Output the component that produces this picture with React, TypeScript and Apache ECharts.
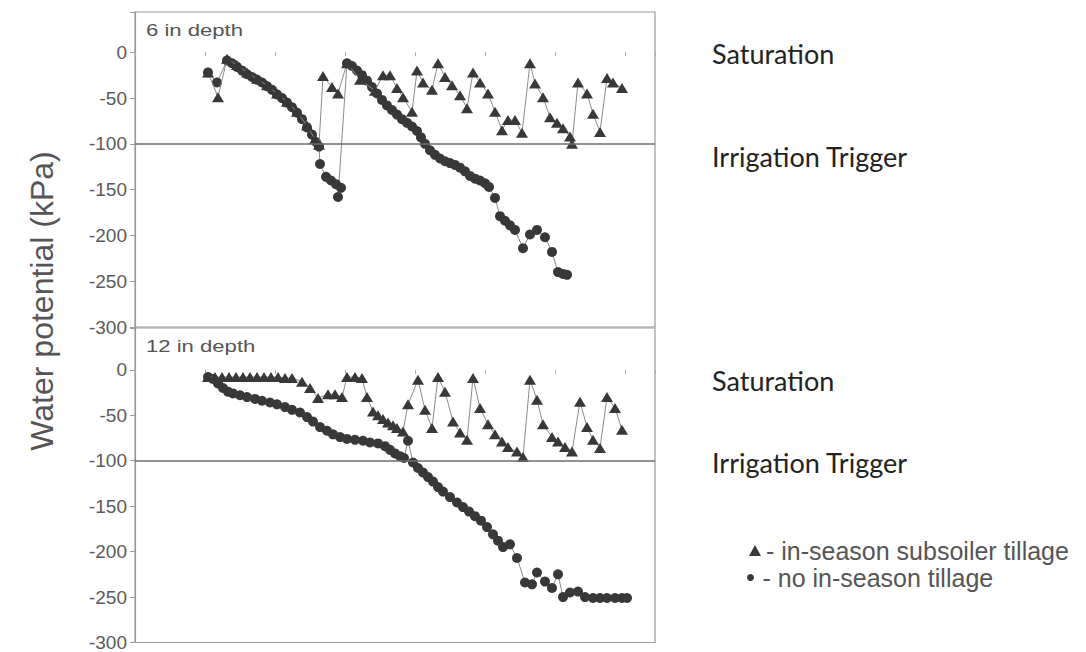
import React, { useEffect, useRef } from 'react';
import * as echarts from 'echarts';

// x = day of measurement period, y = soil water potential (kPa)
const seriesNames = ['in-season subsoiler tillage', 'no in-season tillage'];
const depthLabels = ['6 in depth', '12 in depth'];
const levelLabels = ['Saturation', 'Irrigation Trigger'];
const saturationLevel = 0;
const triggerLevel = -100;

const tillage6: number[][] = [
  [7.3, -22], [8.3, -49], [9.2, -7], [10.2, -14], [11.2, -22], [12.2, -29], [13.2, -36],
  [14.2, -45], [15.2, -54], [16.2, -65], [17.2, -80], [18.0, -95], [18.4, -101],
  [18.8, -26], [19.7, -38], [20.3, -45], [21.2, -12], [22.5, -30], [24.0, -42],
  [24.8, -25], [25.5, -25], [26.2, -39], [26.8, -49], [27.7, -65],
  [28.2, -20], [28.8, -33], [29.7, -41], [30.3, -12], [31.0, -27], [31.7, -36],
  [32.5, -47], [33.2, -61], [33.8, -22], [34.5, -33], [35.3, -45], [36.0, -65],
  [36.7, -85], [37.3, -74], [38.0, -74], [38.7, -88], [39.5, -12], [40.0, -34],
  [40.8, -49], [41.5, -71], [42.2, -77], [42.8, -83], [43.5, -92], [43.7, -100],
  [44.3, -33], [45.2, -45], [45.8, -67], [46.5, -87], [47.2, -28], [47.8, -33], [48.7, -39],
];

const noTillage6: number[][] = [
  [7.3, -22], [8.2, -33], [9.2, -9], [9.7, -12], [10.2, -16], [10.7, -20], [11.2, -24],
  [11.7, -27], [12.2, -30], [12.7, -33], [13.2, -37], [13.7, -41], [14.2, -46],
  [14.7, -50], [15.2, -55], [15.7, -60], [16.2, -66], [16.7, -73], [17.2, -82],
  [17.7, -90], [18.1, -98], [18.4, -103], [18.5, -122], [19.1, -136], [19.6, -140],
  [20.1, -144], [20.6, -148], [20.3, -158], [21.2, -12], [21.7, -15], [22.2, -20],
  [22.7, -25], [23.2, -31], [23.7, -38], [24.2, -45], [24.7, -52], [25.2, -58],
  [25.7, -63], [26.2, -68], [26.7, -73], [27.2, -77], [27.7, -81], [28.2, -86],
  [28.6, -93], [29.0, -100], [29.5, -107], [30.0, -112], [30.5, -116], [31.0, -119],
  [31.5, -121], [32.0, -123], [32.5, -126], [33.0, -130], [33.5, -135], [34.0, -138],
  [34.5, -140], [35.0, -143], [35.4, -147], [36.0, -159], [36.5, -179], [37.0, -184],
  [37.5, -189], [38.0, -194], [38.8, -214], [39.5, -199], [40.2, -194], [41.0, -202],
  [41.7, -218], [42.3, -240], [42.8, -242], [43.2, -243],
];

const tillage12: number[][] = [
  [7.3, -8], [8.0, -8], [8.7, -8], [9.4, -8], [10.1, -8], [10.8, -8], [11.5, -8],
  [12.2, -8], [12.9, -8], [13.6, -8], [14.3, -8], [15.0, -9], [15.7, -9], [16.7, -13],
  [17.5, -20], [18.3, -31], [19.3, -27], [20.0, -27], [20.7, -30], [21.2, -8],
  [22.0, -8], [22.7, -9], [23.2, -30], [23.8, -46], [24.3, -50], [24.8, -54],
  [25.3, -58], [25.8, -61], [26.2, -64], [26.8, -68], [27.3, -38], [28.3, -11],
  [29.0, -44], [29.7, -64], [30.3, -8], [31.0, -24], [31.8, -57], [32.5, -69],
  [33.2, -77], [33.8, -9], [34.5, -42], [35.3, -60], [36.0, -71], [36.7, -79],
  [37.3, -85], [38.2, -90], [38.8, -96], [39.5, -11], [40.2, -33], [40.8, -60],
  [41.7, -74], [42.3, -79], [43.0, -85], [43.7, -90], [44.5, -35], [45.2, -63],
  [45.8, -77], [46.5, -86], [47.2, -30], [48.0, -42], [48.7, -66],
];

const noTillage12: number[][] = [
  [7.3, -8], [7.8, -10], [8.3, -15], [8.8, -20], [9.3, -24], [9.8, -26], [10.5, -28],
  [11.2, -30], [12.0, -32], [12.7, -34], [13.5, -36], [14.2, -38], [15.0, -41],
  [15.7, -44], [16.5, -47], [17.2, -52], [17.8, -57], [18.5, -63], [19.2, -67],
  [19.8, -71], [20.5, -74], [21.2, -76], [22.0, -77], [22.8, -78], [23.5, -80],
  [24.3, -81], [25.0, -84], [25.5, -88], [26.0, -92], [26.5, -95], [26.9, -97],
  [27.3, -78], [27.8, -102], [28.3, -108], [28.8, -113], [29.3, -118], [29.8, -123],
  [30.3, -129], [30.8, -134], [31.5, -140], [32.2, -146], [32.8, -151], [33.4, -156],
  [34.0, -161], [34.6, -166], [35.2, -173], [35.8, -181], [36.3, -188], [36.8, -195],
  [37.5, -192], [38.2, -207], [39.0, -234], [39.7, -236], [40.2, -223], [41.0, -233],
  [41.7, -240], [42.3, -225], [42.8, -250], [43.5, -245], [44.3, -244], [45.0, -250],
  [45.8, -251], [46.5, -251], [47.2, -251], [48.0, -251], [48.7, -251], [49.2, -251],
];

const panels = [
  { tillage: tillage6, noTillage: noTillage6 },
  { tillage: tillage12, noTillage: noTillage12 },
];

const GRID_LEFT = 135;
const GRID_W = 520;
const grids = [
  { top: 12, height: 315 },
  { top: 328, height: 315 },
];
const Y_MIN = -300;
const Y_MAX = [44, 46];

export default function App() {
  const ref = useRef<HTMLDivElement>(null);
  useEffect(() => {
    if (!ref.current) return;
    const chart = echarts.init(ref.current, null, { renderer: 'svg' });
    const markerColor = '#383838';
    const series: any[] = [];
    panels.forEach((p, i) => {
      series.push({
        name: seriesNames[0],
        type: 'line',
        xAxisIndex: i,
        yAxisIndex: i,
        data: p.tillage,
        symbol: 'triangle',
        symbolSize: [12, 10],
        showAllSymbol: true,
        itemStyle: { color: markerColor },
        lineStyle: { color: '#8a8a8a', width: 1 },
        z: 3,
      });
      series.push({
        name: seriesNames[1],
        type: 'line',
        xAxisIndex: i,
        yAxisIndex: i,
        data: p.noTillage,
        symbol: 'circle',
        symbolSize: 10,
        showAllSymbol: true,
        itemStyle: { color: markerColor },
        lineStyle: { color: '#8a8a8a', width: 1 },
        z: 2,
        markLine: {
          silent: true,
          symbol: ['none', 'none'],
          label: { show: false },
          lineStyle: { color: '#6e6e6e', width: 1.5, type: 'solid' },
          data: [{ yAxis: triggerLevel }],
        },
      });
    });

    const graphics: any[] = [];
    depthLabels.forEach((t, i) => {
      graphics.push({
        type: 'text',
        x: 146,
        y: grids[i].top + 18,
        scaleX: 1.3,
        style: { text: t, fontSize: 17, fill: '#555', fontFamily: 'Liberation Sans', verticalAlign: 'middle' },
      });
    });
    const levelRows = [
      { text: levelLabels[0], y: 53 },
      { text: levelLabels[1], y: 156 },
      { text: levelLabels[0], y: 380 },
      { text: levelLabels[1], y: 462 },
    ];
    levelRows.forEach((r) => {
      graphics.push({
        type: 'text',
        x: 712,
        y: r.y,
        style: { text: r.text, fontSize: 27, fill: '#222', fontFamily: 'Lato', verticalAlign: 'middle' },
      });
    });

    const option: any = {
      animation: false,
      backgroundColor: '#fff',
      grid: grids.map((g) => ({
        left: GRID_LEFT,
        width: GRID_W,
        top: g.top,
        height: g.height,
        show: true,
        borderColor: '#9a9a9a',
        borderWidth: 1.2,
      })),
      xAxis: grids.map((_, i) => ({
        gridIndex: i,
        type: 'value',
        min: 0,
        max: 52,
        interval: 7,
        axisLine: { show: false },
        axisTick: { show: true, length: 4, lineStyle: { color: '#aaa' } },
        axisLabel: { show: false },
        splitLine: { show: false },
      })),
      yAxis: grids.map((_, i) => ({
        gridIndex: i,
        type: 'value',
        min: Y_MIN,
        max: Y_MAX[i],
        interval: 50,
        axisLine: { show: true, lineStyle: { color: '#9a9a9a', width: 1.2 } },
        axisTick: { show: true, length: 5, lineStyle: { color: '#9a9a9a' } },
        axisLabel: {
          formatter: (v: number) => (v > saturationLevel ? '' : String(v)),
          color: '#5a5a5a',
          fontSize: 19,
          fontFamily: 'Liberation Sans',
          margin: 8,
        },
        splitLine: { show: false },
      })),
      legend: [
        {
          data: [{ name: seriesNames[0], icon: 'triangle' }],
          left: 744,
          top: 533,
          itemWidth: 12,
          itemHeight: 11,
          formatter: (n: string) => '- ' + n,
          textStyle: { fontSize: 25, color: '#555', fontFamily: 'Liberation Sans' },
          selectedMode: false,
        },
        {
          data: [{ name: seriesNames[1], icon: 'circle' }],
          left: 742,
          top: 560,
          itemWidth: 14,
          itemHeight: 7,
          formatter: (n: string) => '- ' + n,
          textStyle: { fontSize: 25, color: '#555', fontFamily: 'Liberation Sans' },
          selectedMode: false,
        },
      ],
      graphic: [
        ...graphics,
        {
          type: 'text',
          x: 42,
          y: 301,
          rotation: Math.PI / 2,
          style: {
            text: 'Water potential (kPa)',
            fontSize: 32,
            fill: '#555',
            fontFamily: 'Liberation Sans',
            align: 'center',
            verticalAlign: 'middle',
          },
        },
      ],
      series,
    };
    chart.setOption(option);
    return () => chart.dispose();
  }, []);
  return (
    <div
      ref={ref}
      style={{ position: 'fixed', left: 0, top: 0, width: 1086, height: 652, background: '#fff' }}
    />
  );
}
